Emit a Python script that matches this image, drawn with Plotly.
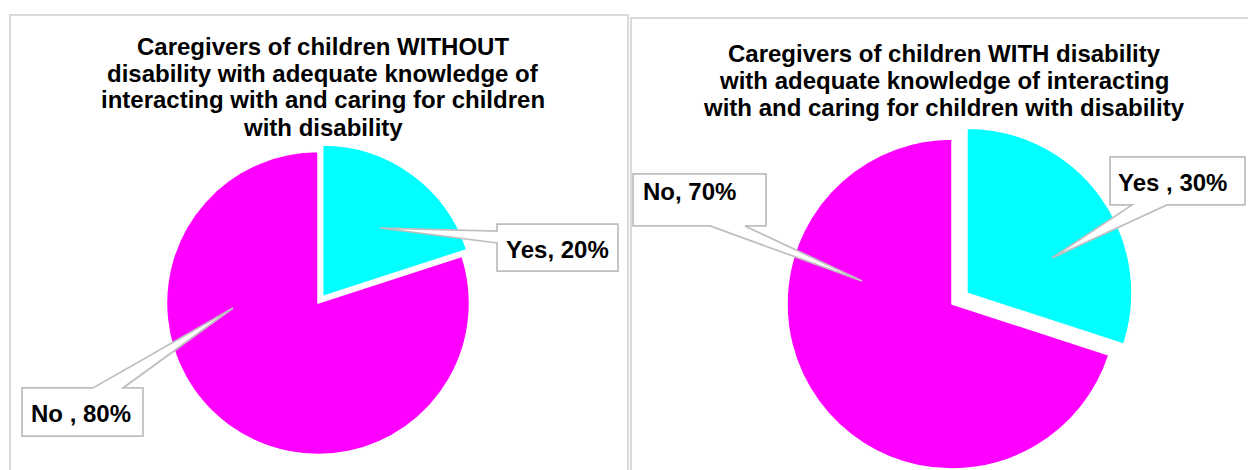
import math
import plotly.graph_objects as go

# ---- data -------------------------------------------------------------
categories = ["Yes", "No"]
without_values = [20, 80]   # caregivers of children WITHOUT disability (%)
with_values = [30, 70]      # caregivers of children WITH disability (%)
without_seps = [", ", " , "]
with_seps = [" , ", ", "]

without_title = [
    "Caregivers of children WITHOUT",
    "disability with adequate knowledge of",
    "interacting with and caring for children",
    "with disability",
]
with_title = [
    "Caregivers of children WITH disability",
    "with adequate knowledge of interacting",
    "with and caring for children with disability",
]

slice_colors = ["#00FFFF", "#FF00FF"]

# ---- canvas helpers ---------------------------------------------------
W, H = 1248, 470
FONT = "Liberation Sans, Arial, sans-serif"
CLEAR = "rgba(0,0,0,0)"


def px(x):
    return x / W


def py(y):
    return 1 - y / H


def pie_pair(values, cx, cy, r, pull_px):
    """Body of the pie plus the exploded first slice, as two aligned traces."""
    total = sum(values)
    mid = math.radians(360 * values[0] / total / 2)
    ox, oy = cx + pull_px * math.sin(mid), cy - pull_px * math.cos(mid)
    traces = []
    for (ccx, ccy), shown in (((cx, cy), 1), ((ox, oy), 0)):
        colors = [CLEAR, CLEAR]
        widths = [0, 0]
        colors[shown] = slice_colors[shown]
        widths[shown] = 1.5
        traces.append(go.Pie(
            labels=categories, values=values, sort=False,
            direction="clockwise", rotation=0,
            marker=dict(colors=colors, line=dict(color="white", width=widths)),
            textinfo="none", hoverinfo="label+percent", showlegend=False,
            domain=dict(x=[px(ccx - r), px(ccx + r)],
                        y=[py(ccy + r), py(ccy - r)]),
        ))
    return traces


fig = go.Figure()
for t in pie_pair(without_values, 318, 303, 151.5, 8):
    fig.add_trace(t)
for t in pie_pair(with_values, 952, 304, 165, 18.5):
    fig.add_trace(t)

shapes = []
annotations = []

# panel frames
for x0, y0, x1 in ((10, 15, 628), (631, 18, 1262)):
    shapes.append(dict(type="rect", xref="paper", yref="paper",
                       x0=px(x0), x1=px(x1), y0=py(y0), y1=py(H + 20),
                       line=dict(color="#D9D9D9", width=2), fillcolor=CLEAR,
                       layer="below"))

# titles, one line per annotation for tight line spacing
for lines, cx, y_first in ((without_title, 323, 46), (with_title, 944, 53)):
    for i, line in enumerate(lines):
        annotations.append(dict(
            text=line, xref="paper", yref="paper",
            x=px(cx), y=py(y_first + 27 * i), xanchor="center", yanchor="middle",
            showarrow=False,
            font=dict(family=FONT, size=24, color="black", weight="bold"),
        ))


def callout(box, tip, base, side):
    """Box with a wedge pointer; box=(x0,y0,x1,y1), base=(a,b) along one edge."""
    x0, y0, x1, y1 = box
    a, b = base
    tx, ty = tip
    if side == "top":
        pts = [(x0, y0), (a, y0), (tx, ty), (b, y0), (x1, y0), (x1, y1), (x0, y1)]
    elif side == "bottom":
        pts = [(x0, y0), (x1, y0), (x1, y1), (b, y1), (tx, ty), (a, y1), (x0, y1)]
    else:  # left
        pts = [(x0, y0), (x1, y0), (x1, y1), (x0, y1), (x0, b), (tx, ty), (x0, a)]
    path = "M " + " L ".join(f"{px(x):.5f},{py(y):.5f}" for x, y in pts) + " Z"
    return dict(type="path", xref="paper", yref="paper", path=path,
                fillcolor="white", line=dict(color="#BFBFBF", width=1.75),
                layer="above")


def label_text(values, seps, i):
    return f"{categories[i]}{seps[i]}{values[i]}%"


label_font = dict(family=FONT, size=24, color="black", weight="bold")

# left chart labels
shapes.append(callout((497, 224, 618, 271), (380, 228), (231, 243), "left"))
annotations.append(dict(text=label_text(without_values, without_seps, 0),
                        xref="paper", yref="paper", x=px(557), y=py(249),
                        xanchor="center", yanchor="middle", showarrow=False,
                        font=label_font))
shapes.append(callout((22, 388, 143, 436), (233, 308), (93, 123), "top"))
annotations.append(dict(text=label_text(without_values, without_seps, 1),
                        xref="paper", yref="paper", x=px(81), y=py(413),
                        xanchor="center", yanchor="middle", showarrow=False,
                        font=label_font))

# right chart labels
shapes.append(callout((1110, 157, 1245, 205), (1052, 258), (1132, 1167), "bottom"))
annotations.append(dict(text=label_text(with_values, with_seps, 0),
                        xref="paper", yref="paper", x=px(1172), y=py(182),
                        xanchor="center", yanchor="middle", showarrow=False,
                        font=label_font))
shapes.append(callout((633, 174, 766, 226), (862, 281), (710, 745), "bottom"))
annotations.append(dict(text=label_text(with_values, with_seps, 1),
                        xref="paper", yref="paper", x=px(641), y=py(192),
                        xanchor="left", yanchor="middle", showarrow=False,
                        font=label_font))

fig.update_layout(
    width=W, height=H,
    margin=dict(l=0, r=0, t=0, b=0),
    paper_bgcolor="white", plot_bgcolor="white",
    shapes=shapes, annotations=annotations,
)

fig.write_html("out.html")
